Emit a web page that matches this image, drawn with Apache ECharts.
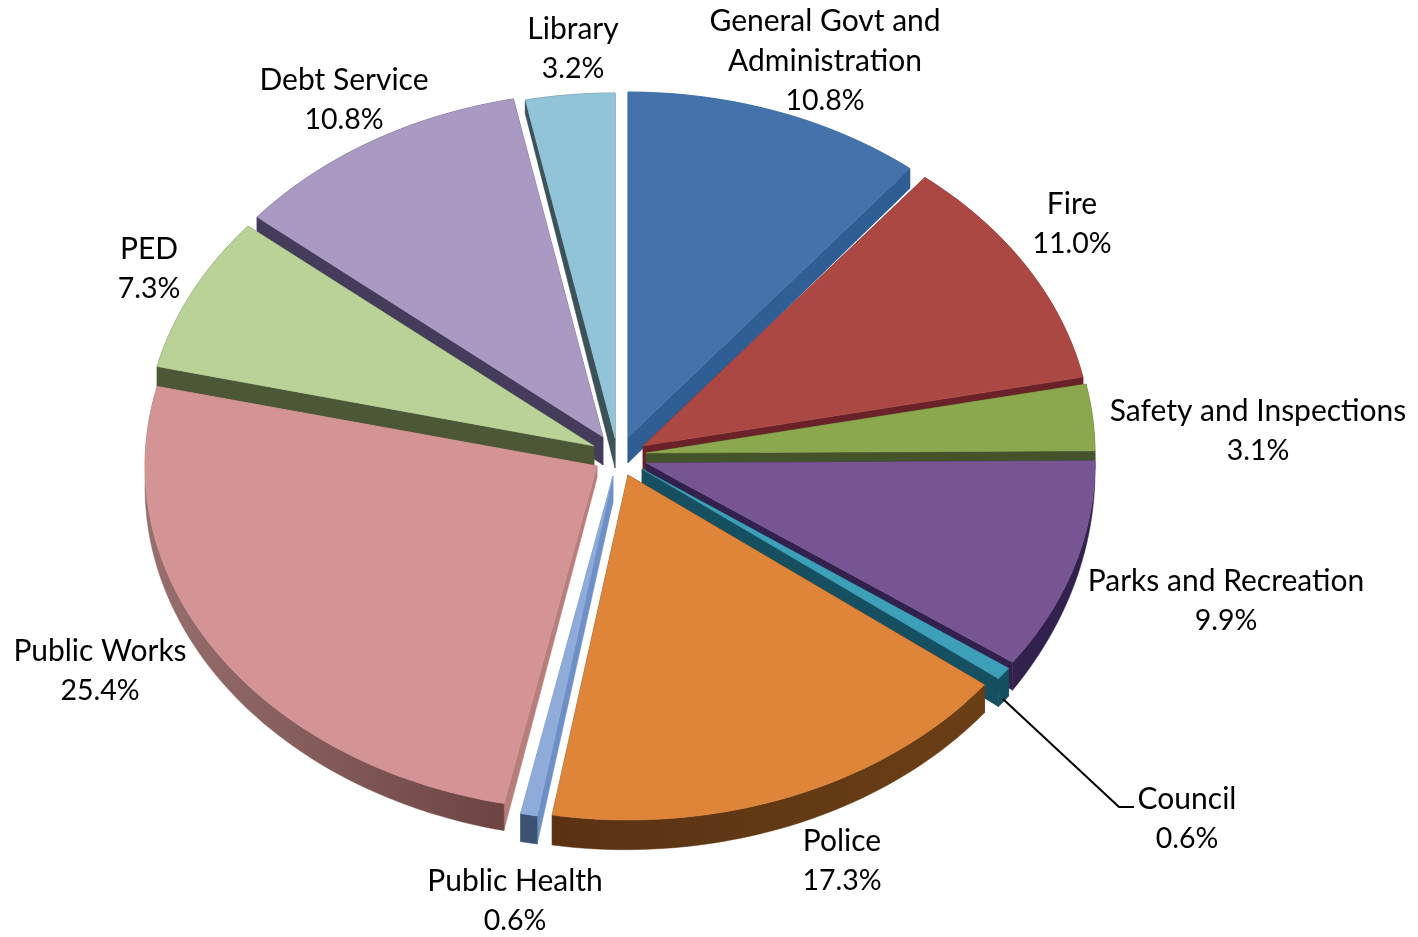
<!DOCTYPE html>
<html>
<head>
<meta charset="utf-8">
<style>html,body{margin:0;padding:0;background:#fff}#c{width:1418px;height:937px}</style>
<script src="https://cdn.jsdelivr.net/npm/echarts@6/dist/echarts.min.js"></script>
</head>
<body>
<div id="c"></div>
<script>
// --- data ---
const categories = ['General Govt and\nAdministration','Fire','Safety and Inspections','Parks and Recreation','Council','Police','Public Health','Public Works','PED','Debt Service','Library'];
const values = [10.8,11.0,3.1,9.9,0.6,17.3,0.6,25.4,7.3,10.8,3.2];

// --- appearance ---
const topColors   = ['#4373AA','#AB4844','#8BA84E','#775592','#3E9FB9','#DF8539','#8FABDA','#D49496','#B9D298','#AA9AC3','#92C4D9'];
const edgeWalls   = ['#2F5E94','#6A2228','#44542A','#33214D','#164F60','#5A3213','#6F90C6','#B87E7C','#4B5735','#453C5C','#3D5258'];
const rimNear     = ['#2F5E94','#6A2228','#44542A','#33214D','#164F60','#6A3F16','#3C5272','#6D4442','#4B5735','#453C5C','#3D5258'];
const rimFar      = ['#2F5E94','#6A2228','#44542A','#33214D','#164F60','#5A3213','#3C5272','#97706E','#4B5735','#453C5C','#3D5258'];
// --- layout: apex of each exploded slice, radii, extrusion (apex, rim start, rim end) ---
const apexes = [[628,437],[643,446],[646,453],[646,463],[642,469],[628,475],[613,476],[597,466],[594,446],[603,437],[615,438]];
const radiusX = [449,449,449,449,449,449,449,452,449,449,449];
const radiusY = 345;
const depths = [[26,0,20],[24,0,15],[20,8,10],[10,8,28],[20,28,28],[28,28,30],[26,28,28],[12,27,20],[20,20,15],[28,15,0],[30,14,0]];
const drawOrder = [10,9,8,7,0,1,2,3,4,5,6];
const labelCenters = [[825,61],[1072,224],[1258,431],[1226,601],[1187,819],[842,861],[515,901],[100,671],[149,269],[344,100],[573,49]];
const councilLeader = [[1003,699],[1119,807],[1134,807]];

const total = values.reduce((a,b)=>a+b,0);
const cumulative = [];
values.reduce((acc,v,i)=>{cumulative[i]=acc;return acc+v;},0);

function renderSlice(params, api){
  const i = params.dataIndex;
  const v = api.value(0);
  const t0 = cumulative[i]/total*2*Math.PI;
  const t1 = t0 + v/total*2*Math.PI;
  const [ax,ay] = apexes[i];
  const rx = radiusX[i];
  const [d0,dS,dE] = depths[i];
  const n = Math.max(3,Math.ceil((t1-t0)/0.025));
  const arc=[], arcLow=[];
  for(let k=0;k<=n;k++){
    const f=k/n, t=t0+(t1-t0)*f;
    const x=ax+rx*Math.sin(t), y=ay-radiusY*Math.cos(t);
    arc.push([x,y]);
    arcLow.push([x,y+dS+(dE-dS)*f]);
  }
  const apexLow=[ax,ay+d0];
  const base=drawOrder.indexOf(i)*10+1;
  const poly=(pts,fill,z)=>({type:'polygon',shape:{points:pts},z2:base+z,style:{fill:fill,stroke:fill,lineWidth:0.5}});
  const children=[
    poly([[ax,ay],apexLow,arcLow[0],arc[0]],edgeWalls[i],0),
    poly([[ax,ay],apexLow,arcLow[n],arc[n]],edgeWalls[i],0),
    poly(arc.concat(arcLow.slice().reverse()),
      new echarts.graphic.LinearGradient(1,0,0,0,[{offset:0,color:rimNear[i]},{offset:1,color:rimFar[i]}]),1),
    poly([[ax,ay]].concat(arc),topColors[i],2)
  ];
  const [lx,ly]=labelCenters[i];
  const labelText=categories[i].split('\n').map(s=>'{n|'+s+'}').join('\n')+'\n{p|'+v.toFixed(1)+'%}';
  children.push({type:'text',z2:500,style:{
    x:lx,y:ly,text:labelText,
    fill:'#000',fontFamily:'Lato',fontSize:30,lineHeight:39.5,
    align:'center',verticalAlign:'middle',
    rich:{
      n:{fontFamily:'Lato',fontSize:30,lineHeight:39.5,fill:'#000',color:'#000'},
      p:{fontFamily:'Lato',fontSize:28.5,lineHeight:39.5,fill:'#000',color:'#000'}
    }}});
  if(categories[i]==='Council'){
    children.push({type:'polyline',z2:499,shape:{points:councilLeader},style:{stroke:'#000',lineWidth:2,fill:null}});
  }
  return {type:'group',children:children};
}

const chart=echarts.init(document.getElementById('c'),null,{renderer:'canvas'});
chart.setOption({
  animation:false,
  backgroundColor:'#fff',
  series:[{
    type:'custom',
    coordinateSystem:'none',
    renderItem:renderSlice,
    data:values.map((v,i)=>({value:[v],name:categories[i]}))
  }]
});
</script>
</body>
</html>
